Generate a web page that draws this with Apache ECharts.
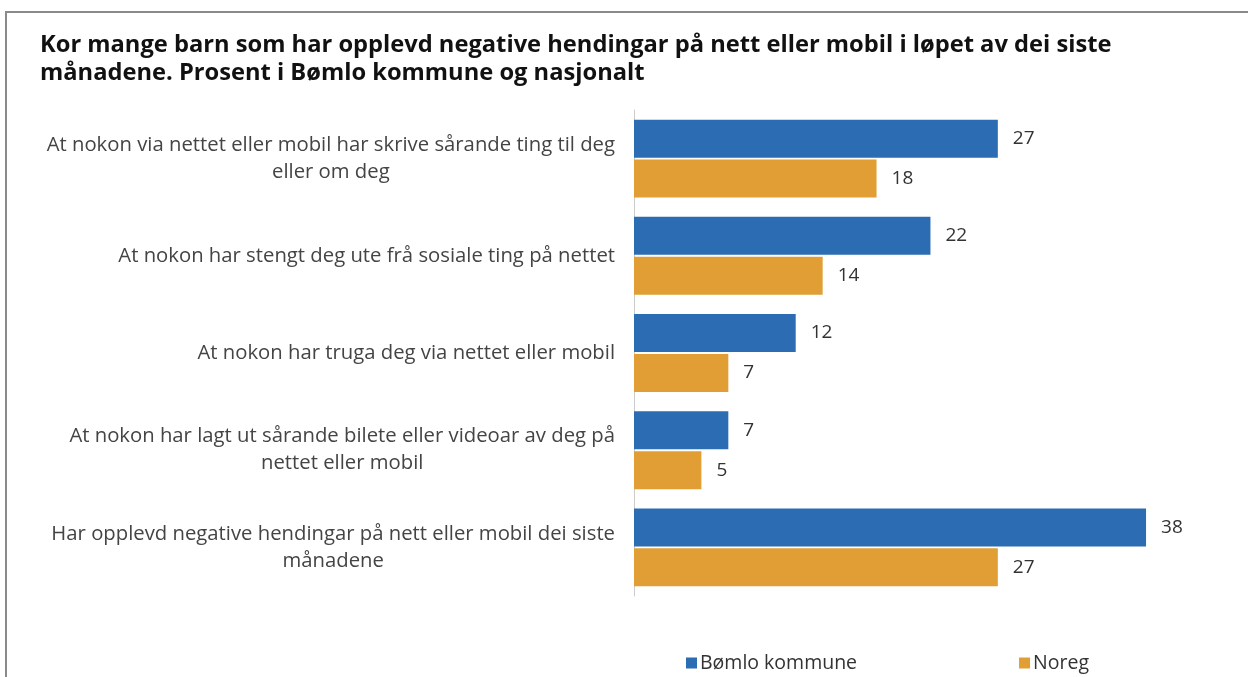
<!DOCTYPE html>
<html>
<head>
<meta charset="utf-8">
<script src="https://cdn.jsdelivr.net/npm/echarts@6/dist/echarts.min.js"></script>
<style>
html,body{margin:0;padding:0;background:#fff;}
#chart{width:1248px;height:677px;}
</style>
</head>
<body>
<div id="chart"></div>
<script>
const titleText = "Kor mange barn som har opplevd negative hendingar på nett eller mobil i løpet av dei siste\nmånadene. Prosent i Bømlo kommune og nasjonalt";
const categories = [
  "At nokon via nettet eller mobil har skrive sårande ting til deg\neller om deg",
  "At nokon har stengt deg ute frå sosiale ting på nettet",
  "At nokon har truga deg via nettet eller mobil",
  "At nokon har lagt ut sårande bilete eller videoar av deg på\nnettet eller mobil",
  "Har opplevd negative hendingar på nett eller mobil dei siste\nmånadene"
];
const seriesNames = ["Bømlo kommune", "Noreg"];
const bomloValues = [27, 22, 12, 7, 38];
const noregValues = [18, 14, 7, 5, 27];

const chart = echarts.init(document.getElementById('chart'), null, {renderer: 'canvas'});
const FONT = '"Open Sans"';
const valueLabel = {
  show: true, position: 'right', distance: 15,
  color: '#333', fontSize: 19, fontFamily: FONT
};
chart.setOption({
  animation: false,
  backgroundColor: '#fff',
  title: {
    text: titleText,
    left: 35, top: 26,
    textStyle: {fontFamily: FONT, fontSize: 23.7, fontWeight: 'bold', color: '#111', lineHeight: 28}
  },
  graphic: [
    {type: 'line', shape: {x1: 5, y1: 12, x2: 1248, y2: 12}, style: {stroke: '#8a8a8a', lineWidth: 2}},
    {type: 'line', shape: {x1: 6, y1: 12, x2: 6, y2: 677}, style: {stroke: '#8a8a8a', lineWidth: 2}}
  ],
  legend: {
    data: seriesNames,
    left: 681, top: 648,
    itemWidth: 11, itemHeight: 11, itemGap: 162,
    icon: 'rect',
    textStyle: {fontFamily: FONT, fontSize: 19.5, color: '#333', padding: [0, 0, 0, -2]}
  },
  grid: {left: 634, top: 110, bottom: 81, width: 539, containLabel: false},
  xAxis: {
    type: 'value', min: 0, max: 40, show: false
  },
  yAxis: {
    type: 'category', data: categories, inverse: true,
    axisLine: {show: true, lineStyle: {color: '#cccccc', width: 1}},
    axisTick: {show: false},
    axisLabel: {
      margin: 19, align: 'right',
      fontFamily: FONT, fontSize: 20.3, color: '#444', lineHeight: 27,
      formatter: function (v) { return v.split('\n').map(s => '{c|' + s + '}').join('\n'); },
      rich: {c: {align: 'center', fontFamily: FONT, fontSize: 20.3, color: '#444', lineHeight: 27}}
    }
  },
  series: [
    {name: seriesNames[0], type: 'bar', data: bomloValues, barWidth: 38, barGap: '5%',
     itemStyle: {color: '#2c6cb3'}, label: valueLabel},
    {name: seriesNames[1], type: 'bar', data: noregValues, barWidth: 38,
     itemStyle: {color: '#e09e34'}, label: valueLabel}
  ]
});
</script>
</body>
</html>
